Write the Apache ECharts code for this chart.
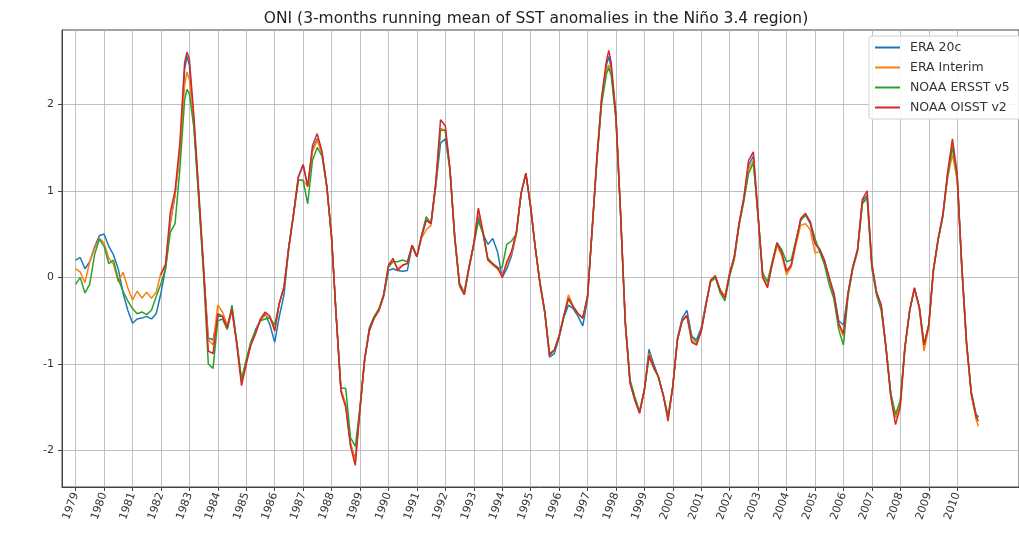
<!DOCTYPE html>
<html>
<head>
<meta charset="utf-8">
<script src="https://cdn.jsdelivr.net/npm/echarts@6/dist/echarts.min.js"></script>
<style>
html, body { margin: 0; padding: 0; background: #fff; }
#oni_chart { width: 1019px; height: 533px; }
</style>
</head>
<body>
<div id="oni_chart"></div>
<script>
// sampling grid: month offsets from Jan 1979, every 2 months, plus the last month
var sampleMonths = [];
for (var m = 0; m <= 380; m += 2) sampleMonths.push(m);
sampleMonths.push(381);

var yearTicks = [1979, 1980, 1981, 1982, 1983, 1984, 1985, 1986, 1987, 1988, 1989, 1990, 1991, 1992, 1993, 1994,
    1995, 1996, 1997, 1998, 1999, 2000, 2001, 2002, 2003, 2004, 2005, 2006, 2007, 2008, 2009, 2010];
var yTicks = [-2, -1, 0, 1, 2];
var seriesNames = ['ERA 20c', 'ERA Interim', 'NOAA ERSST v5', 'NOAA OISST v2'];

var era20c = [
    0.20, 0.23, 0.10, 0.18, 0.35, 0.48, 0.50, 0.36, 0.26, 0.10, -0.18, -0.38, -0.53, -0.48, -0.47, -0.45, -0.48, -0.42,
    -0.18, 0.10, 0.62, 0.95, 1.45, 2.40, 2.45, 1.75, 0.95, 0.10, -0.70, -0.72,
    -0.45, -0.45, -0.60, -0.38, -0.75, -1.18, -0.97, -0.76, -0.60, -0.50, -0.42, -0.55,
    -0.75, -0.45, -0.20, 0.35, 0.74, 1.16, 1.30, 1.05, 1.47, 1.60, 1.43, 1.05,
    0.47, -0.45, -1.30, -1.47, -1.92, -2.10, -1.50, -0.95, -0.62, -0.47, -0.38, -0.22,
    0.08, 0.10, 0.08, 0.07, 0.08, 0.37, 0.24, 0.47, 0.66, 0.62, 1.05, 1.55,
    1.60, 1.24, 0.47, -0.07, -0.17, 0.12, 0.39, 0.70, 0.50, 0.38, 0.45, 0.30,
    0.00, 0.10, 0.25, 0.50, 0.97, 1.20, 0.82, 0.35, -0.07, -0.40, -0.92, -0.88,
    -0.70, -0.47, -0.32, -0.36, -0.45, -0.56, -0.25, 0.55, 1.35, 2.05, 2.45, 2.42,
    1.85, 0.74, -0.53, -1.22, -1.41, -1.55, -1.30, -0.83, -1.00, -1.15, -1.36, -1.62,
    -1.26, -0.70, -0.47, -0.38, -0.68, -0.72, -0.58, -0.30, -0.05, 0.00, -0.15, -0.22,
    0.05, 0.24, 0.62, 0.90, 1.30, 1.40, 0.70, 0.00, -0.10, 0.16, 0.39, 0.28,
    0.07, 0.14, 0.41, 0.66, 0.72, 0.62, 0.39, 0.32, 0.20, 0.00, -0.18, -0.50,
    -0.55, -0.18, 0.12, 0.32, 0.88, 0.95, 0.16, -0.17, -0.32, -0.80, -1.34, -1.62,
    -1.45, -0.80, -0.38, -0.13, -0.34, -0.78, -0.55, 0.08, 0.43, 0.72, 1.20, 1.50,
    1.16, 0.12, -0.76, -1.34, -1.60, -1.60
];
var eraInterim = [
    0.10, 0.06, -0.06, 0.18, 0.33, 0.45, 0.40, 0.22, 0.15, -0.05, 0.06, -0.12, -0.26, -0.16, -0.24, -0.17, -0.24, -0.17,
    0.05, 0.15, 0.65, 0.95, 1.45, 2.22, 2.28, 1.78, 0.95, 0.10, -0.72, -0.78,
    -0.32, -0.40, -0.55, -0.38, -0.75, -1.18, -0.95, -0.78, -0.63, -0.49, -0.44, -0.47,
    -0.60, -0.30, -0.11, 0.33, 0.72, 1.12, 1.12, 1.05, 1.45, 1.58, 1.43, 1.05,
    0.47, -0.45, -1.30, -1.47, -1.92, -2.12, -1.50, -0.95, -0.60, -0.47, -0.38, -0.20,
    0.12, 0.20, 0.10, 0.14, 0.16, 0.37, 0.24, 0.45, 0.55, 0.60, 1.08, 1.72,
    1.70, 1.24, 0.47, -0.07, -0.17, 0.12, 0.39, 0.78, 0.50, 0.20, 0.14, 0.10,
    0.02, 0.16, 0.28, 0.50, 0.97, 1.20, 0.82, 0.35, -0.07, -0.40, -0.88, -0.84,
    -0.68, -0.45, -0.20, -0.33, -0.42, -0.47, -0.22, 0.55, 1.35, 2.05, 2.40, 2.38,
    1.85, 0.74, -0.53, -1.20, -1.40, -1.55, -1.30, -0.88, -1.03, -1.15, -1.36, -1.62,
    -1.26, -0.72, -0.50, -0.44, -0.72, -0.78, -0.60, -0.32, -0.05, 0.00, -0.14, -0.22,
    0.02, 0.20, 0.60, 0.88, 1.25, 1.35, 0.70, 0.02, -0.10, 0.14, 0.37, 0.25,
    0.03, 0.12, 0.38, 0.60, 0.62, 0.55, 0.28, 0.30, 0.18, -0.02, -0.20, -0.55,
    -0.68, -0.20, 0.10, 0.30, 0.85, 0.92, 0.14, -0.17, -0.35, -0.80, -1.36, -1.62,
    -1.45, -0.80, -0.38, -0.13, -0.36, -0.85, -0.58, 0.06, 0.43, 0.72, 1.15, 1.42,
    1.12, 0.12, -0.78, -1.36, -1.64, -1.72
];
var ersstV5 = [
    -0.08, 0.00, -0.18, -0.08, 0.26, 0.44, 0.36, 0.16, 0.20, -0.02, -0.16, -0.27, -0.36, -0.42, -0.40, -0.43, -0.38, -0.22,
    -0.07, 0.10, 0.52, 0.62, 1.25, 2.05, 2.12, 1.72, 0.90, 0.05, -1.00, -1.05,
    -0.50, -0.48, -0.60, -0.32, -0.75, -1.20, -0.95, -0.74, -0.62, -0.50, -0.48, -0.47,
    -0.55, -0.30, -0.11, 0.35, 0.74, 1.12, 1.12, 0.85, 1.35, 1.50, 1.40, 1.05,
    0.47, -0.45, -1.28, -1.28, -1.85, -1.95, -1.50, -0.95, -0.58, -0.45, -0.36, -0.20,
    0.12, 0.18, 0.18, 0.20, 0.18, 0.37, 0.24, 0.48, 0.70, 0.62, 1.08, 1.70,
    1.70, 1.24, 0.45, -0.10, -0.20, 0.10, 0.37, 0.65, 0.50, 0.22, 0.16, 0.10,
    0.12, 0.38, 0.42, 0.50, 0.97, 1.20, 0.80, 0.35, -0.05, -0.38, -0.88, -0.84,
    -0.68, -0.45, -0.25, -0.34, -0.42, -0.47, -0.22, 0.55, 1.35, 2.00, 2.35, 2.33,
    1.82, 0.74, -0.50, -1.18, -1.38, -1.55, -1.30, -0.92, -1.05, -1.15, -1.36, -1.60,
    -1.26, -0.72, -0.50, -0.44, -0.68, -0.75, -0.62, -0.32, -0.05, 0.00, -0.18, -0.27,
    0.02, 0.22, 0.60, 0.88, 1.20, 1.32, 0.70, 0.05, -0.05, 0.18, 0.40, 0.32,
    0.18, 0.20, 0.43, 0.66, 0.72, 0.64, 0.45, 0.30, 0.15, -0.08, -0.25, -0.60,
    -0.78, -0.22, 0.10, 0.30, 0.85, 0.92, 0.10, -0.20, -0.38, -0.80, -1.34, -1.58,
    -1.42, -0.80, -0.38, -0.13, -0.34, -0.78, -0.55, 0.08, 0.43, 0.70, 1.18, 1.52,
    1.16, 0.15, -0.74, -1.32, -1.58, -1.62
];
// OISST v2 starts in 1982
var oisstV2 = [
    null, null, null, null, null, null, null, null, null, null, null, null, null, null, null, null, null, null,
    0.03, 0.15, 0.75, 1.00, 1.55, 2.48, 2.52, 1.85, 1.00, 0.15, -0.85, -0.88,
    -0.42, -0.45, -0.58, -0.36, -0.78, -1.25, -1.00, -0.78, -0.65, -0.48, -0.40, -0.45,
    -0.62, -0.30, -0.11, 0.35, 0.74, 1.16, 1.30, 1.05, 1.52, 1.66, 1.45, 1.05,
    0.47, -0.45, -1.32, -1.50, -1.95, -2.17, -1.52, -0.95, -0.60, -0.47, -0.38, -0.20,
    0.14, 0.22, 0.08, 0.14, 0.16, 0.37, 0.24, 0.47, 0.66, 0.62, 1.10, 1.82,
    1.75, 1.26, 0.47, -0.07, -0.20, 0.12, 0.39, 0.80, 0.52, 0.20, 0.16, 0.12,
    0.00, 0.18, 0.30, 0.52, 0.97, 1.20, 0.82, 0.35, -0.07, -0.40, -0.90, -0.84,
    -0.68, -0.45, -0.24, -0.34, -0.42, -0.47, -0.22, 0.55, 1.38, 2.08, 2.50, 2.48,
    1.88, 0.76, -0.53, -1.22, -1.42, -1.57, -1.30, -0.90, -1.03, -1.15, -1.36, -1.66,
    -1.26, -0.72, -0.50, -0.44, -0.75, -0.78, -0.62, -0.33, -0.03, 0.02, -0.15, -0.24,
    0.05, 0.24, 0.62, 0.92, 1.35, 1.45, 0.72, 0.00, -0.12, 0.16, 0.40, 0.28,
    0.07, 0.14, 0.41, 0.68, 0.74, 0.64, 0.39, 0.33, 0.20, 0.00, -0.20, -0.53,
    -0.65, -0.18, 0.12, 0.32, 0.90, 1.00, 0.16, -0.17, -0.32, -0.82, -1.38, -1.70,
    -1.50, -0.82, -0.38, -0.12, -0.34, -0.78, -0.55, 0.08, 0.45, 0.72, 1.22, 1.60,
    1.20, 0.12, -0.76, -1.34, -1.61, -1.66
];

// extra readings at the two big El Niño peaks (months 47 = Dec 1982, 225 = Oct 1997)
var peakMonths = [47, 225];
var era20cPeaks = [2.55, 2.55];
var eraInterimPeaks = [2.37, 2.45];
var ersstV5Peaks = [2.17, 2.42];
var oisstV2Peaks = [2.60, 2.62];

var seriesColors = ['#1f77b4', '#ff7f0e', '#2ca02c', '#d62728'];

function toPairs(values, peaks) {
    var out = [];
    for (var i = 0; i < sampleMonths.length; i++) {
        if (values[i] === null) continue;
        out.push([sampleMonths[i], values[i]]);
    }
    for (var j = 0; j < peakMonths.length; j++) {
        out.push([peakMonths[j], peaks[j]]);
    }
    out.sort(function (a, b) { return a[0] - b[0]; });
    return out.map(function (p) { return [Date.UTC(1979, p[0], 1), p[1]]; });
}

var yearStamps = yearTicks.map(function (y) { return Date.UTC(y, 0, 1); });
var fontName = 'DejaVu Sans';

var oniChart = echarts.init(document.getElementById('oni_chart'), null, {renderer: 'canvas'});
var allValues = [era20c, eraInterim, ersstV5, oisstV2];
var allPeaks = [era20cPeaks, eraInterimPeaks, ersstV5Peaks, oisstV2Peaks];
var oniOption = {
    animation: false,
    backgroundColor: '#fff',
    title: {
        text: 'ONI (3-months running mean of SST anomalies in the Niño 3.4 region)',
        left: 531,
        top: 6,
        textAlign: 'center',
        textStyle: {fontFamily: fontName, fontSize: 15.5, fontWeight: 'normal', color: '#222'}
    },
    legend: {
        orient: 'vertical',
        left: 869,
        top: 36,
        icon: 'rect',
        itemWidth: 25,
        itemHeight: 2,
        itemGap: 7,
        padding: [5, 14, 5, 6],
        backgroundColor: 'rgba(255,255,255,0.85)',
        borderColor: '#d0d0d0',
        borderWidth: 1,
        borderRadius: 3,
        textStyle: {fontFamily: fontName, fontSize: 12.5, color: '#333', padding: [0, 0, 0, 5]},
        data: seriesNames
    },
    // the right spine sits just outside the picture, as in the original figure
    grid: {
        left: 62, right: -3, top: 30, bottom: 46,
        show: true, borderColor: '#444', borderWidth: 1
    },
    // x is a plain value axis in milliseconds so the yearly ticks can be placed exactly
    xAxis: {
        type: 'value',
        min: Date.UTC(1978, 6, 10),
        max: Date.UTC(2012, 2, 5),
        axisLine: {onZero: false, lineStyle: {color: '#444'}},
        axisTick: {customValues: yearStamps, length: 4, lineStyle: {color: '#444'}},
        axisLabel: {
            customValues: yearStamps,
            rotate: 70,
            margin: 6,
            fontFamily: fontName,
            fontSize: 11,
            color: '#333',
            formatter: function (v) { return String(new Date(v).getUTCFullYear()); }
        },
        splitLine: {show: true, lineStyle: {color: '#b0b0b0', width: 0.8}}
    },
    yAxis: {
        type: 'value',
        min: -2.42,
        max: 2.856,
        axisLine: {show: true, onZero: false, lineStyle: {color: '#444'}},
        axisTick: {show: true, customValues: yTicks, length: 4, lineStyle: {color: '#444'}},
        axisLabel: {
            customValues: yTicks,
            margin: 8,
            fontFamily: fontName,
            fontSize: 11,
            color: '#333',
            formatter: function (v) { return String(v); }
        },
        splitLine: {show: true, lineStyle: {color: '#b0b0b0', width: 0.8}}
    },
    series: seriesNames.map(function (name, i) {
        return {
            name: name,
            type: 'line',
            showSymbol: false,
            symbol: 'none',
            color: seriesColors[i],
            lineStyle: {width: 1.5, color: seriesColors[i]},
            emphasis: {disabled: true},
            data: toPairs(allValues[i], allPeaks[i])
        };
    })
};
oniChart.setOption(oniOption);
</script>
</body>
</html>
